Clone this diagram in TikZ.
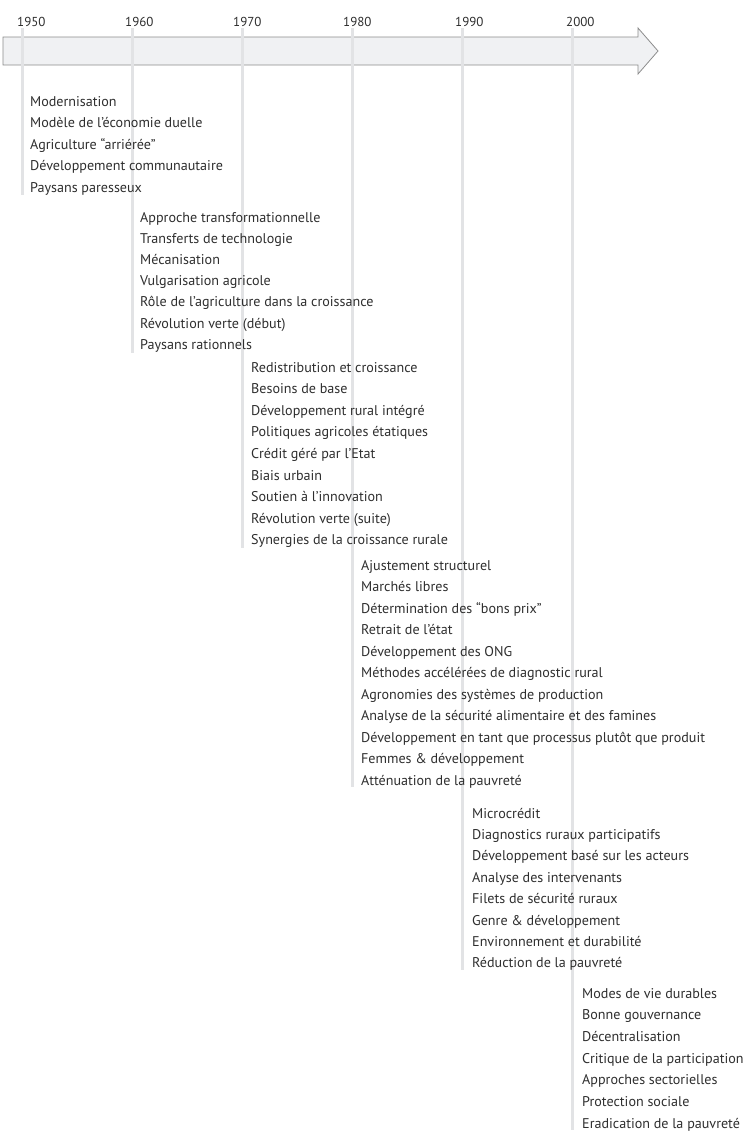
\documentclass[tikz,border=0pt]{standalone}
\usepackage{fontspec}
\setmainfont{PT Sans}
\usepackage{tikz}

\definecolor{arrowfill}{HTML}{F0F1F3}
\definecolor{arrowline}{HTML}{8C8C8C}
\definecolor{eraline}{HTML}{E2E3E5}
\definecolor{itemtext}{HTML}{2E2E2E}

\tikzset{
  item/.style={anchor=base west,inner sep=0pt,text=itemtext,font=\fontsize{14.1}{17}\selectfont},
  year/.style={item,font=\fontsize{13}{15}\selectfont},
  era/.style={draw=eraline,line width=3pt},
}

\begin{document}
\begin{tikzpicture}[x=1pt,y=-1pt]
  \useasboundingbox (0,0) rectangle (744,1133);

  % time axis
  \draw[fill=arrowfill,draw=arrowline,line width=0.8pt]
    (3,37) -- (638,37) -- (638,28) -- (658,51) -- (638,74) -- (638,65) -- (3,65) -- cycle;

  % years
  \node[year](y1950) at (17,26) {1950};
  \node[year](y1960) at (125,26) {1960};
  \node[year](y1970) at (233,26) {1970};
  \node[year](y1980) at (343,26) {1980};
  \node[year](y1990) at (455,26) {1990};
  \node[year](y2000) at (566,26) {2000};

  % era lines
  \coordinate (t1950) at (22,28);  \coordinate (b1950) at (22,195);
  \coordinate (t1960) at (132,28); \coordinate (b1960) at (132,353);
  \coordinate (t1970) at (242,28); \coordinate (b1970) at (242,548);
  \coordinate (t1980) at (352,28); \coordinate (b1980) at (352,787);
  \coordinate (t1990) at (462,28); \coordinate (b1990) at (462,970);
  \coordinate (t2000) at (572,28); \coordinate (b2000) at (572,1130);
  \draw[era](t1950) -- (b1950);
  \draw[era](t1960) -- (b1960);
  \draw[era](t1970) -- (b1970);
  \draw[era](t1980) -- (b1980);
  \draw[era](t1990) -- (b1990);
  \draw[era](t2000) -- (b2000);

  % 1950s
  \foreach \txt [count=\i from 0] in {Modernisation, Modèle de l’économie duelle, Agriculture “arriérée”, Développement communautaire, Paysans paresseux}
    \node[item](a\i) at (30,{106+21.6*\i}) {\txt};

  % 1960s
  \foreach \txt [count=\i from 0] in {Approche transformationnelle, Transferts de technologie, Mécanisation, Vulgarisation agricole, Rôle de l’agriculture dans la croissance, Révolution verte (début), Paysans rationnels}
    \node[item](b\i) at (140,{222+21.2*\i}) {\txt};

  % 1970s
  \foreach \txt [count=\i from 0] in {Redistribution et croissance, Besoins de base, Développement rural intégré, Politiques agricoles étatiques, Crédit géré par l’Etat, Biais urbain, Soutien à l’innovation, Révolution verte (suite), Synergies de la croissance rurale}
    \node[item](c\i) at (251,{372+21.6*\i}) {\txt};

  % 1980s
  \foreach \txt [count=\i from 0] in {Ajustement structurel, Marchés libres, Détermination des “bons prix”, Retrait de l’état, Développement des ONG, Méthodes accélérées de diagnostic rural, Agronomies des systèmes de production, Analyse de la sécurité alimentaire et des famines, Développement en tant que processus plutôt que produit, Femmes \& développement, Atténuation de la pauvreté}
    \node[item](d\i) at (361,{570+21.5*\i}) {\txt};

  % 1990s
  \foreach \txt [count=\i from 0] in {Microcrédit, Diagnostics ruraux participatifs, Développement basé sur les acteurs, Analyse des intervenants, Filets de sécurité ruraux, Genre \& développement, Environnement et durabilité, Réduction de la pauvreté}
    \node[item](e\i) at (472,{818+21.4*\i}) {\txt};

  % 2000s
  \foreach \txt [count=\i from 0] in {Modes de vie durables, Bonne gouvernance, Décentralisation, Critique de la participation, Approches sectorielles, Protection sociale, Eradication de la pauvreté}
    \node[item](f\i) at (582,{998+21.7*\i}) {\txt};
\end{tikzpicture}
\end{document}
